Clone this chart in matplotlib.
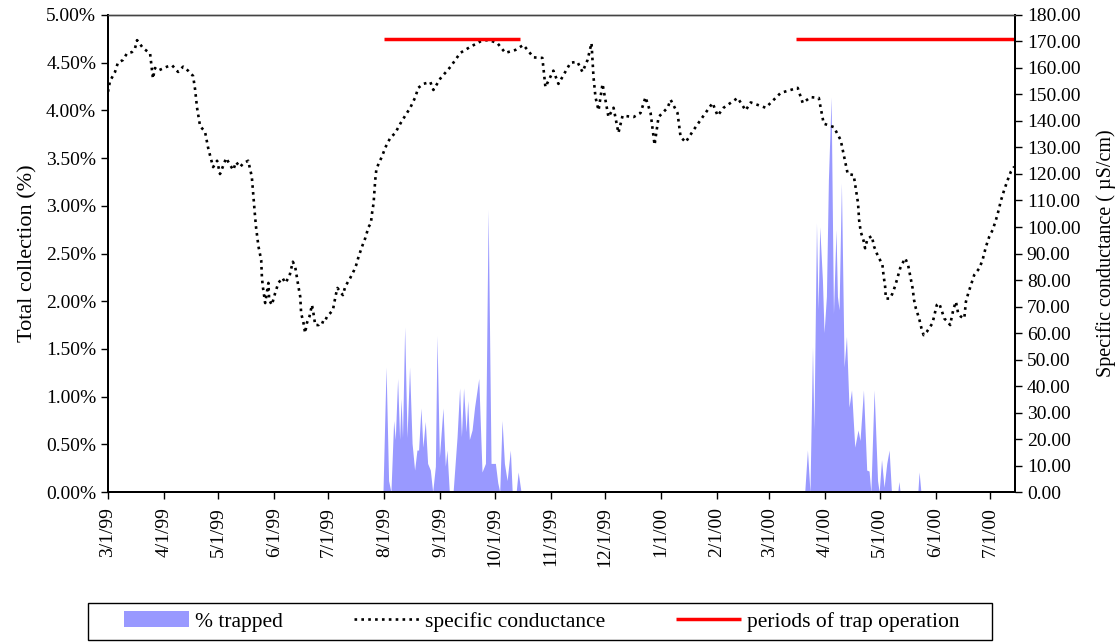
import pandas as pd
import matplotlib
matplotlib.use("Agg")
import matplotlib.pyplot as plt
import matplotlib.dates as mdates
from matplotlib.patches import Rectangle
from matplotlib.ticker import FuncFormatter, MultipleLocator

plt.rcParams['font.family'] = ['Liberation Serif', 'DejaVu Serif']

# all series dated as days since 3/1/99
start = pd.Timestamp("1999-03-01")
end = pd.Timestamp("2000-07-15")

# specific conductance (uS/cm)
cond_day = [0, 1.1, 3.9, 5.5, 8.3, 10.5, 13.3, 15, 16.1, 19.4, 23.3, 24.9, 26, 27.7,
            32.7, 35.5, 38.8, 41.6, 44.3, 47.1, 48.2, 49.3, 51, 53.7, 55.4, 56.5, 58.2,
            60.4, 62, 65.4, 67.6, 69.3, 70.9, 73.1, 74.8, 77.6, 79.6, 80.2, 81.4, 82,
            83.3, 84.8, 85.2, 85.7, 87, 88.8, 89.2, 90.7, 92.5, 94.3, 96.6, 98.1, 100.4,
            102.3, 103.6, 105.4, 106.4, 106.9, 108.2, 109.1, 110.1, 111.5, 112.9, 113.7,
            114.7, 116.5, 117.8, 119.7, 121.2, 123, 124.5, 125.2, 126.3, 127, 128.5, 130,
            131.3, 134.1, 136.3, 137.4, 138.7, 140.6, 142.4, 144.2, 145.5, 146.1, 147,
            147.5, 147.9, 148.5, 149.8, 151.6, 153.5, 156.2, 159, 161.8, 164.5, 167.3,
            170.1, 171.7, 174.5, 178.4, 180.1, 183.9, 189.5, 195, 200.6, 206.1, 210.5,
            215.5, 219.9, 225.5, 229.9, 235.5, 240.4, 242.1, 246.5, 249.3, 256, 259.8,
            262.6, 265.4, 267.6, 268.7, 269.8, 271.5, 273.7, 275.3, 277, 279.8, 282.5,
            284.8, 290.9, 294.7, 297.5, 300.3, 302.5, 304.7, 309.7, 311.4, 315.2, 316.9,
            319.7, 324.1, 329.1, 334.6, 337.4, 340.7, 348.5, 352.9, 355.7, 364, 372.3,
            381.7, 384.5, 388.9, 393.4, 396.1, 401.7, 405.5, 409.4, 412.7, 415.1, 415.7,
            416.6, 418.1, 419, 420.3, 422.7, 424, 425.5, 427.3, 428.6, 429.2, 430.1,
            430.5, 432.8, 434.2, 435.5, 436.6, 438.4, 439.7, 441.2, 442.8, 443.9, 445.3,
            446.1, 447.1, 448.9, 450.2, 451.4, 453.2, 455, 456.3, 457.6, 458.7, 460,
            461.3, 462.8, 464.6, 466.1, 467, 468, 469.3, 470.5, 472, 473.9, 474.8, 476.1,
            477.6, 479.4, 482.2, 484, 485.9, 487.7, 489.6, 491.4, 492.7, 494.2, 496,
            497.9, 499.7, 501.6]
cond_val = [151, 155, 158.5, 162, 163, 165.5, 166, 167.5, 170.5, 167.5, 165.5, 156, 160, 159,
            160.5, 161, 158.5, 160.5, 159, 157, 152, 145, 138, 136, 130, 127, 122.6,
            125, 120, 126, 123.4, 121.5, 124.5, 122.6, 124, 125, 119, 114, 104, 99.6,
            92.6, 87.5, 81, 77.5, 71.3, 78.9, 72.5, 70.6, 75, 78.9, 80.8, 78.9, 81.3,
            86.9, 85, 77.5, 73.7, 67.5, 63.8, 60, 63.8, 66.2, 70.6, 67.5,
            63, 63, 64.3, 63.8, 66.2, 67.5, 68.7, 71.3, 75, 77, 75.6, 74.3,
            77.5, 80.8, 83.8, 85.7, 88.8, 92.6, 95.8, 100, 101.4, 105, 109,
            114, 117.7, 121.5, 124, 126.5, 130, 133.6, 135.5, 139, 142, 145,
            149, 152.5, 154, 154.7, 151.7, 156, 160.4, 165.7, 168, 170, 170.6,
            169.4, 165.7, 166.8, 168.7, 164, 163.8, 152.8, 159, 154, 162, 162.3,
            158.5, 163, 169.4, 156.6, 149, 144, 154, 148, 141.5, 145, 135.5,
            142, 141.5, 143, 149, 143, 131, 141.5, 145, 148, 143, 134,
            132, 136.6, 141.5, 146.8, 142, 145, 148.7, 144, 147, 145, 150.6,
            152.5, 146.8, 149, 148.7, 139, 137.7, 132.8, 120, 119.6, 109, 102.6,
            98.2, 95, 92, 95.5, 96.6, 92.6, 90, 87.5, 85.7, 81.9, 77.5,
            73, 73, 75, 77.5, 80, 84.4, 86.3, 88.2, 85.7, 81.9, 76.9,
            72.5, 69.3, 65.5, 61.8, 59.2, 60.5, 62.4, 63.7, 67.4, 70.6, 71.2,
            68.7, 65.5, 64.3, 63, 66.2, 69.3, 71.8, 67.4, 66.2, 65.5, 71.8, 75,
            78.1, 81.9, 84.4, 87.5, 92.6, 96.3, 98.9, 102.6, 105.8, 110, 114,
            117.7, 120.9, 122.8]

# % trapped (percent of total collection)
trap_day = [0, 152.2, 153.9, 155.3, 156.6, 158.1, 159, 160.3, 161.4, 162.2, 163, 164.2,
            165.5, 166.9, 168.3, 169.7, 171, 171.9, 173.2, 174.3, 175.6, 176.9, 178.4,
            179.7, 181.2, 182.1, 183.4, 185.4, 186.7, 187.6, 188.9, 191, 193.2, 194.6,
            195.6, 196.8, 198.2, 199.1, 200, 201.5, 202.9, 205.2, 207, 208.9, 210.4, 212,
            214.4, 215.7, 216.8, 218.1, 219.4, 220.9, 222.7, 223.7, 225.9, 227, 228.6,
            385.6, 387.1, 388.5, 389.9, 390.7, 392.1, 393, 393.9, 395.4, 396.3, 397.6,
            398.7, 400.2, 401.5, 402.9, 403.7, 404.6, 405.9, 407.4, 408.7, 410.1, 411.5,
            413.3, 415.1, 416.2, 418.1, 419.9, 421.2, 422.2, 424, 425.9, 426.8, 428.1,
            429.5, 431, 432.3, 433.6, 437.1, 437.7, 438.4, 448.2, 448.9, 449.9, 502]
trap_pct = [0, 0, 1.31, 0.12, 0, 0.75, 0.55, 1.19, 0.55, 0.98, 0.57, 1.73,
            0.57, 1.31, 0.51, 0.23, 0.44, 0.44, 0.88, 0.47, 0.74, 0.3, 0.23,
            0, 0.27, 1.64, 0.36, 0.88, 0.27, 0.44, 0, 0, 0.58, 1.09,
            0.58, 1.09, 0.63, 0.96, 0.55, 0.65, 0.89, 1.19, 0.21, 0.3, 2.96, 0.3,
            0.3, 0.1, 0, 0.75, 0.3, 0.12, 0.44, 0, 0, 0.21, 0,
            0, 0.44, 0, 1.52, 0.65, 2.82, 1.91, 2.78, 2.22, 1.67, 2.05,
            3.27, 4.14, 1.87, 2.75, 2.05, 1.91, 3.24, 1.31, 1.63, 0.89, 1.07,
            0.47, 0.65, 0.54, 1.07, 0.23, 0.22, 0, 1.07, 0.12, 0, 0.34,
            0.05, 0.3, 0.44, 0, 0, 0.11, 0, 0, 0.21, 0, 0]

# periods of trap operation
trap_periods = [("1999-08-01", "1999-10-15"), ("2000-03-16", "2000-07-15")]
trap_level = 171


def main():
    cond_dates = start + pd.to_timedelta(cond_day, unit="D")
    trap_dates = start + pd.to_timedelta(trap_day, unit="D")
    trap_frac = [p / 100 for p in trap_pct]

    fig = plt.figure(figsize=(11.2, 6.43), dpi=100)
    ax = fig.add_axes([0.0964, 0.2348, 0.8099, 0.7419])
    ax2 = ax.twinx()

    # area of % trapped on the left axis
    area = ax.fill_between(trap_dates, trap_frac, 0, color="#9999FF", linewidth=0,
                           label="% trapped")
    ax.set_ylim(0, 0.05)
    ax.yaxis.set_major_locator(MultipleLocator(0.005))
    ax.yaxis.set_major_formatter(FuncFormatter(lambda v, p: f"{v * 100:.2f}%"))
    ax.set_ylabel("Total collection (%)", fontsize=16, labelpad=6)

    # conductance and trap periods on the right axis
    cond_line, = ax2.plot(cond_dates, cond_val, color="black", linewidth=1.9,
                          linestyle=(0, (1, 1.6)), label="specific conductance")
    red = None
    for a, b in trap_periods:
        h, = ax2.plot([pd.Timestamp(a), pd.Timestamp(b)], [trap_level, trap_level],
                      color="#FF0000", linewidth=2.5, solid_capstyle="butt",
                      label="periods of trap operation")
        if red is None:
            red = h
    ax2.set_ylim(0, 180)
    ax2.yaxis.set_major_locator(MultipleLocator(10))
    ax2.yaxis.set_major_formatter(FuncFormatter(lambda v, p: f"{v:.2f}"))
    ax2.set_ylabel("Specific conductance ( µS/cm)", fontsize=14.5, labelpad=11)

    ax.set_xlim(start, end)
    ax.xaxis.set_major_locator(mdates.MonthLocator())
    ax.xaxis.set_major_formatter(
        FuncFormatter(lambda v, p: (lambda d: f"{d.month}/{d.day}/{d:%y}")(mdates.num2date(v))))

    for a in (ax, ax2):
        a.tick_params(direction="out", length=5, width=1, labelsize=14, color="black")
        for s in a.spines.values():
            s.set_linewidth(1.4)
            s.set_color("black")
        a.spines["top"].set_linewidth(1.0)
        a.spines["top"].set_color("#444444")
    ax.tick_params(axis="x", labelrotation=90, pad=6)

    # legend box along the bottom
    fig.patches.append(Rectangle((0.0786, 0.0047), 0.807, 0.0575, transform=fig.transFigure,
                                 facecolor="white", edgecolor="black", linewidth=1.0))
    fig.legend(handles=[area, cond_line, red], loc="center",
               bbox_to_anchor=(0.484, 0.0334), ncol=3, fontsize=15.5, frameon=False,
               handlelength=3, handletextpad=0.3, columnspacing=3.3)

    plt.savefig("out.png", dpi=100)


if __name__ == '__main__':
    main()
